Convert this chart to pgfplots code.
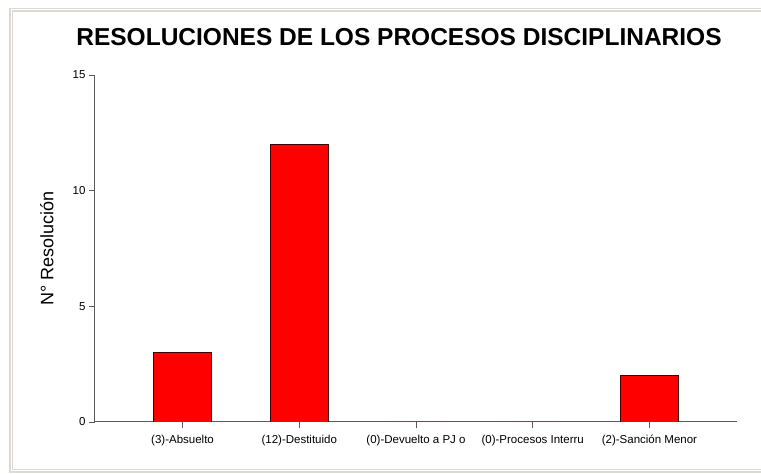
\documentclass[border=0pt]{standalone}
\usepackage{pgfplots}
\pgfplotsset{compat=1.18}
\usepackage{fontspec}
\setmainfont{Liberation Sans}
\definecolor{framegray}{RGB}{220,218,210}
\definecolor{axgray}{RGB}{90,90,90}
\begin{document}
\begin{tikzpicture}[x=1pt,y=1pt]
\useasboundingbox (0,0) rectangle (761,474);
\draw[framegray, line width=4pt] (761,464) -- (11,464) -- (11,3) -- (761,3);
\draw[white, line width=1pt] (761,464) -- (11,464) -- (11,3) -- (761,3);
\node[font=\fontsize{24.5}{28}\selectfont\bfseries] at (399,437) {RESOLUCIONES DE LOS PROCESOS DISCIPLINARIOS};
\begin{axis}[
  at={(95pt,52pt)}, anchor=south west,
  scale only axis, width=642pt, height=347pt,
  xmin=-0.75, xmax=4.75, ymin=0, ymax=15,
  axis x line=bottom, axis y line=left,
  axis line style={-, axgray, line width=1pt},
  tick align=outside, major tick length=6pt,
  tick style={axgray, line width=0.8pt},
  xtick={0,1,2,3,4},
  xticklabels={(3)-Absuelto,(12)-Destituido,(0)-Devuelto a PJ o,(0)-Procesos Interru,(2)-Sanción Menor},
  ytick={0,5,10,15},
  ticklabel style={font=\fontsize{11.5}{13}\selectfont},
  xticklabel style={text height=9pt, text depth=3pt, yshift=-3pt},
  /pgf/number format/assume math mode=true,
  ylabel={N° Resolución},
  every axis y label/.style={at={(axis description cs:-0.075,0.5)}, anchor=center, rotate=90, font=\fontsize{18}{21}\selectfont},
  ybar, bar width=0.5,
]
\addplot[fill=red, draw=black!75!red, line width=0.8pt] coordinates {(0,3) (1,12) (2,0) (3,0) (4,2)};
\end{axis}
\end{tikzpicture}
\end{document}
